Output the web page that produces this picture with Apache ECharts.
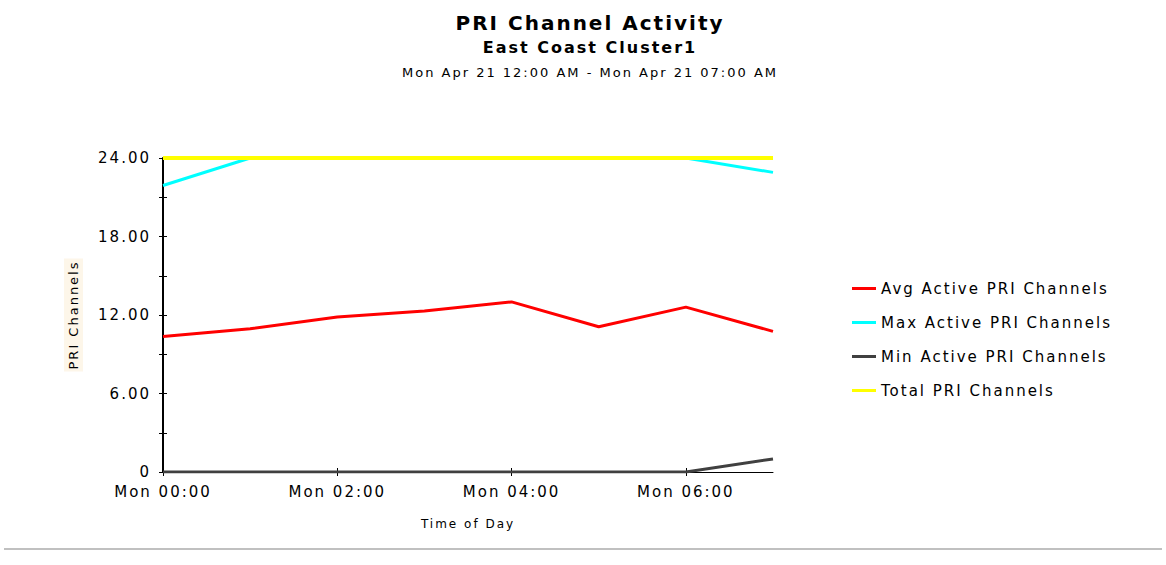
<!DOCTYPE html>
<html>
<head>
<meta charset="utf-8">
<script src="https://cdn.jsdelivr.net/npm/echarts@6/dist/echarts.min.js"></script>
<style>
  html, body { margin: 0; padding: 0; background: #fff; }
  #chart { width: 1166px; height: 565px; }
  /* the source image has wide, loose lettering */
  #chart text { letter-spacing: 2px; }
</style>
</head>
<body>
<div id="chart"></div>
<script>
const hours = ['Mon 00:00', 'Mon 01:00', 'Mon 02:00', 'Mon 03:00', 'Mon 04:00', 'Mon 05:00', 'Mon 06:00', 'Mon 07:00']
const avgActive = [10.35, 10.95, 11.85, 12.3, 13.0, 11.1, 12.6, 10.75]
const maxActive = [21.9, 24, 24, 24, 24, 24, 24, 22.9]
const minActive = [0, 0, 0, 0, 0, 0, 0, 1]
const totalChannels = [24, 24, 24, 24, 24, 24, 24, 24]

const font = 'DejaVu Sans'

const chart = echarts.init(document.getElementById('chart'), null, { renderer: 'svg' })

const tickStyle = { color: '#000', width: 1 }

chart.setOption({
  animation: false,
  backgroundColor: '#fff',
  title: [
    {
      text: 'PRI Channel Activity',
      left: 590, top: 13, textAlign: 'center', padding: 0,
      textStyle: { fontFamily: font, fontSize: 20, fontWeight: 'bold', color: '#000' },
    },
    {
      text: 'East Coast Cluster1',
      left: 590, top: 39, textAlign: 'center', padding: 0,
      textStyle: { fontFamily: font, fontSize: 16, fontWeight: 'bold', color: '#000' },
    },
    {
      text: 'Mon Apr 21 12:00 AM - Mon Apr 21 07:00 AM',
      left: 590, top: 66, textAlign: 'center', padding: 0,
      textStyle: { fontFamily: font, fontSize: 13, fontWeight: 'normal', color: '#000' },
    },
  ],
  legend: {
    orient: 'vertical',
    left: 847,
    top: 276,
    itemWidth: 24,
    itemHeight: 3,
    itemGap: 19,
    icon: 'rect',
    textStyle: { fontFamily: font, fontSize: 15, color: '#000' },
    data: ['Avg Active PRI Channels', 'Max Active PRI Channels', 'Min Active PRI Channels', 'Total PRI Channels'],
  },
  grid: { left: 163, right: 393, top: 158, bottom: 93 },
  xAxis: [
    {
      type: 'category',
      data: hours,
      boundaryGap: false,
      axisLine: { lineStyle: { color: '#000', width: 1 } },
      axisTick: { interval: 1, length: 4, lineStyle: tickStyle },
      axisLabel: { interval: 1, margin: 12, fontFamily: font, fontSize: 15, color: '#000' },
      splitLine: { show: false },
      name: 'Time of Day',
      nameLocation: 'middle',
      nameGap: 46,
      nameTextStyle: { fontFamily: font, fontSize: 12, color: '#000' },
    },
    {
      type: 'category',
      data: hours,
      boundaryGap: false,
      position: 'bottom',
      axisLine: { show: false },
      axisTick: { inside: true, interval: 1, length: 4, lineStyle: tickStyle },
      axisLabel: { show: false },
      splitLine: { show: false },
    },
  ],
  yAxis: [
    {
      type: 'value',
      min: 0, max: 24, interval: 6,
      axisLine: { show: true, lineStyle: { color: '#000', width: 2 } },
      axisTick: { show: true, length: 4, lineStyle: tickStyle },
      minorTick: { show: true, splitNumber: 2, length: 4, lineStyle: tickStyle },
      axisLabel: {
        margin: 12, fontFamily: font, fontSize: 15, color: '#000',
        formatter: (v) => (v === 0 ? '0' : v.toFixed(2)),
      },
      splitLine: { show: false },
      name: 'PRI Channels',
      nameLocation: 'middle',
      nameGap: 80,
      nameTextStyle: {
        fontFamily: font, fontSize: 13, color: '#000',
        backgroundColor: '#fdf6e9', padding: [3, 14, 3, 14],
      },
    },
    {
      type: 'value',
      min: 0, max: 24, interval: 6,
      position: 'left',
      axisLine: { show: false },
      axisTick: { show: true, inside: true, length: 4, lineStyle: tickStyle },
      minorTick: { show: true, splitNumber: 2, length: 4, lineStyle: tickStyle },
      axisLabel: { show: false },
      splitLine: { show: false },
    },
  ],
  series: [
    {
      name: 'Avg Active PRI Channels', type: 'line', data: avgActive,
      symbol: 'none', color: '#ff0000', lineStyle: { width: 3 },
    },
    {
      name: 'Max Active PRI Channels', type: 'line', data: maxActive,
      symbol: 'none', color: '#00ffff', lineStyle: { width: 3 },
    },
    {
      name: 'Min Active PRI Channels', type: 'line', data: minActive,
      symbol: 'none', color: '#404040', lineStyle: { width: 3 },
    },
    {
      name: 'Total PRI Channels', type: 'line', data: totalChannels,
      symbol: 'none', color: '#ffff00', lineStyle: { width: 4 },
    },
  ],
  graphic: [
    {
      type: 'line',
      shape: { x1: 4, y1: 549, x2: 1162, y2: 549 },
      style: { stroke: '#c0c0c0', lineWidth: 2 },
    },
  ],
})
</script>
</body>
</html>
